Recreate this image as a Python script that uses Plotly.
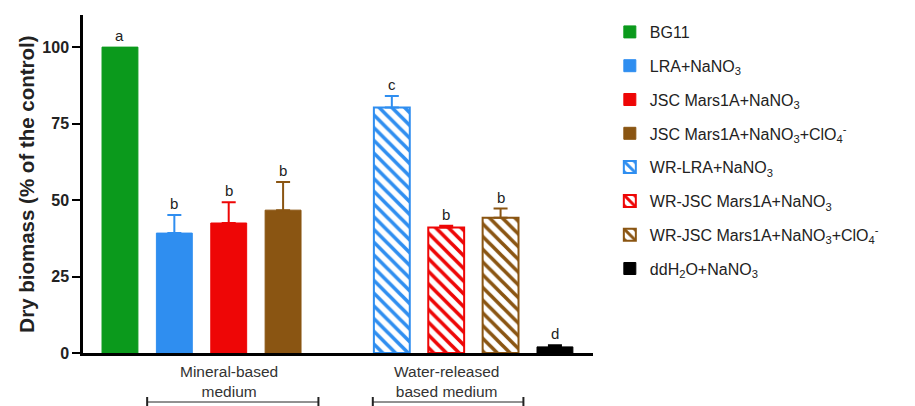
import plotly.graph_objects as go

# ---- data ----
categories = ["BG11", "LRA", "JSC", "JSC-ClO4", "WR-LRA", "WR-JSC", "WR-JSC-ClO4", "ddH2O"]
axis_order = ["BG11", "LRA", "JSC", "JSC-ClO4", "spacer", "WR-LRA", "WR-JSC", "WR-JSC-ClO4", "ddH2O"]
legend_names = [
    "BG11",
    "LRA+NaNO<sub>3</sub>",
    "JSC Mars1A+NaNO<sub>3</sub>",
    "JSC Mars1A+NaNO<sub>3</sub>+ClO<sub>4</sub><sup>-</sup>",
    "WR-LRA+NaNO<sub>3</sub>",
    "WR-JSC Mars1A+NaNO<sub>3</sub>",
    "WR-JSC Mars1A+NaNO<sub>3</sub>+ClO<sub>4</sub><sup>-</sup>",
    "ddH<sub>2</sub>O+NaNO<sub>3</sub>",
]
values = [100, 39.2, 42.5, 46.7, 80.3, 41.0, 44.2, 2.0]
errors = [0, 5.9, 6.8, 9.2, 3.7, 0.6, 3.0, 0.5]
letters = ["a", "b", "b", "b", "c", "b", "b", "d"]
colors = ["#0b9a1c", "#2f8ef0", "#ee0606", "#8a5512", "#2f8ef0", "#ee0606", "#8a5512", "#000000"]
hatched = [False, False, False, False, True, True, True, False]
group_labels = ["Mineral-based<br>medium", "Water-released<br>based medium"]
group_centers = ["JSC", "WR-JSC"]
y_ticks = [0, 25, 50, 75, 100]

FONT = "Arial, Liberation Sans, sans-serif"

fig = go.Figure()
for i, cat in enumerate(categories):
    if hatched[i]:
        marker = dict(color="white",
                      line=dict(color=colors[i], width=2),
                      pattern=dict(shape="\\", fgcolor=colors[i], bgcolor="white",
                                   size=9, solidity=0.4, fillmode="replace", fgopacity=1))
    else:
        marker = dict(color=colors[i], line=dict(color=colors[i], width=1))
    fig.add_trace(go.Bar(
        x=[cat], y=[values[i]], name=legend_names[i], marker=marker,
        width=0.66, legendgroup=f"g{i}",
        error_y=dict(type="data", array=[errors[i]], arrayminus=[0], symmetric=False,
                     color=colors[i], thickness=2, width=7, visible=errors[i] > 0),
    ))
    fig.add_annotation(x=cat, y=values[i] + errors[i], text=letters[i], showarrow=False,
                       yanchor="bottom", yshift=1, font=dict(size=15, color="#222", family=FONT))

# group labels + brackets
for lab, cen in zip(group_labels, group_centers):
    fig.add_annotation(x=cen, y=0, yref="paper", text=lab, showarrow=False,
                       yanchor="top", yshift=-8, font=dict(size=15.5, color="#333", family=FONT))

cat_index = {c: i for i, c in enumerate(axis_order)}
brackets = [(cat_index["LRA"] - 0.5, cat_index["JSC-ClO4"] + 0.65),
            (cat_index["WR-LRA"] - 0.35, cat_index["WR-JSC-ClO4"] + 0.42)]
for x0, x1 in brackets:
    yb = -49 / 338
    yt = -44 / 338
    ybot = -54 / 338
    fig.add_shape(type="line", xref="x", yref="paper", x0=x0, x1=x1, y0=yb, y1=yb,
                  line=dict(color="#222", width=1))
    for xx in (x0, x1):
        fig.add_shape(type="line", xref="x", yref="paper", x0=xx, x1=xx, y0=yt, y1=ybot,
                      line=dict(color="#222", width=2))

fig.update_layout(
    width=915, height=406,
    margin=dict(l=83, r=322, t=15, b=53),
    paper_bgcolor="white", plot_bgcolor="white",
    barmode="overlay",
    font=dict(family=FONT, color="#222"),
    showlegend=True,
    legend=dict(x=1.033, y=1.0, xanchor="left", yanchor="top",
                font=dict(size=16, color="#222", family=FONT),
                tracegroupgap=10, bgcolor="rgba(0,0,0,0)"),
    xaxis=dict(type="category", categoryorder="array", categoryarray=axis_order,
               range=[-0.68, 8.7], showticklabels=False, ticks="",
               showline=True, linecolor="black", linewidth=2.5, showgrid=False, zeroline=False),
    yaxis=dict(range=[0, 110.5], tickvals=y_ticks, ticks="outside", ticklen=8, tickwidth=2,
               tickcolor="black", showline=True, linecolor="black", linewidth=2.5,
               showgrid=False, zeroline=False,
               tickfont=dict(size=16, color="#222", family=FONT, weight="bold"),
               title=dict(text="<b>Dry biomass (% of the control)</b>",
                          font=dict(size=20.5, color="#222", family=FONT), standoff=3)),
)

fig.write_html("out.html")
